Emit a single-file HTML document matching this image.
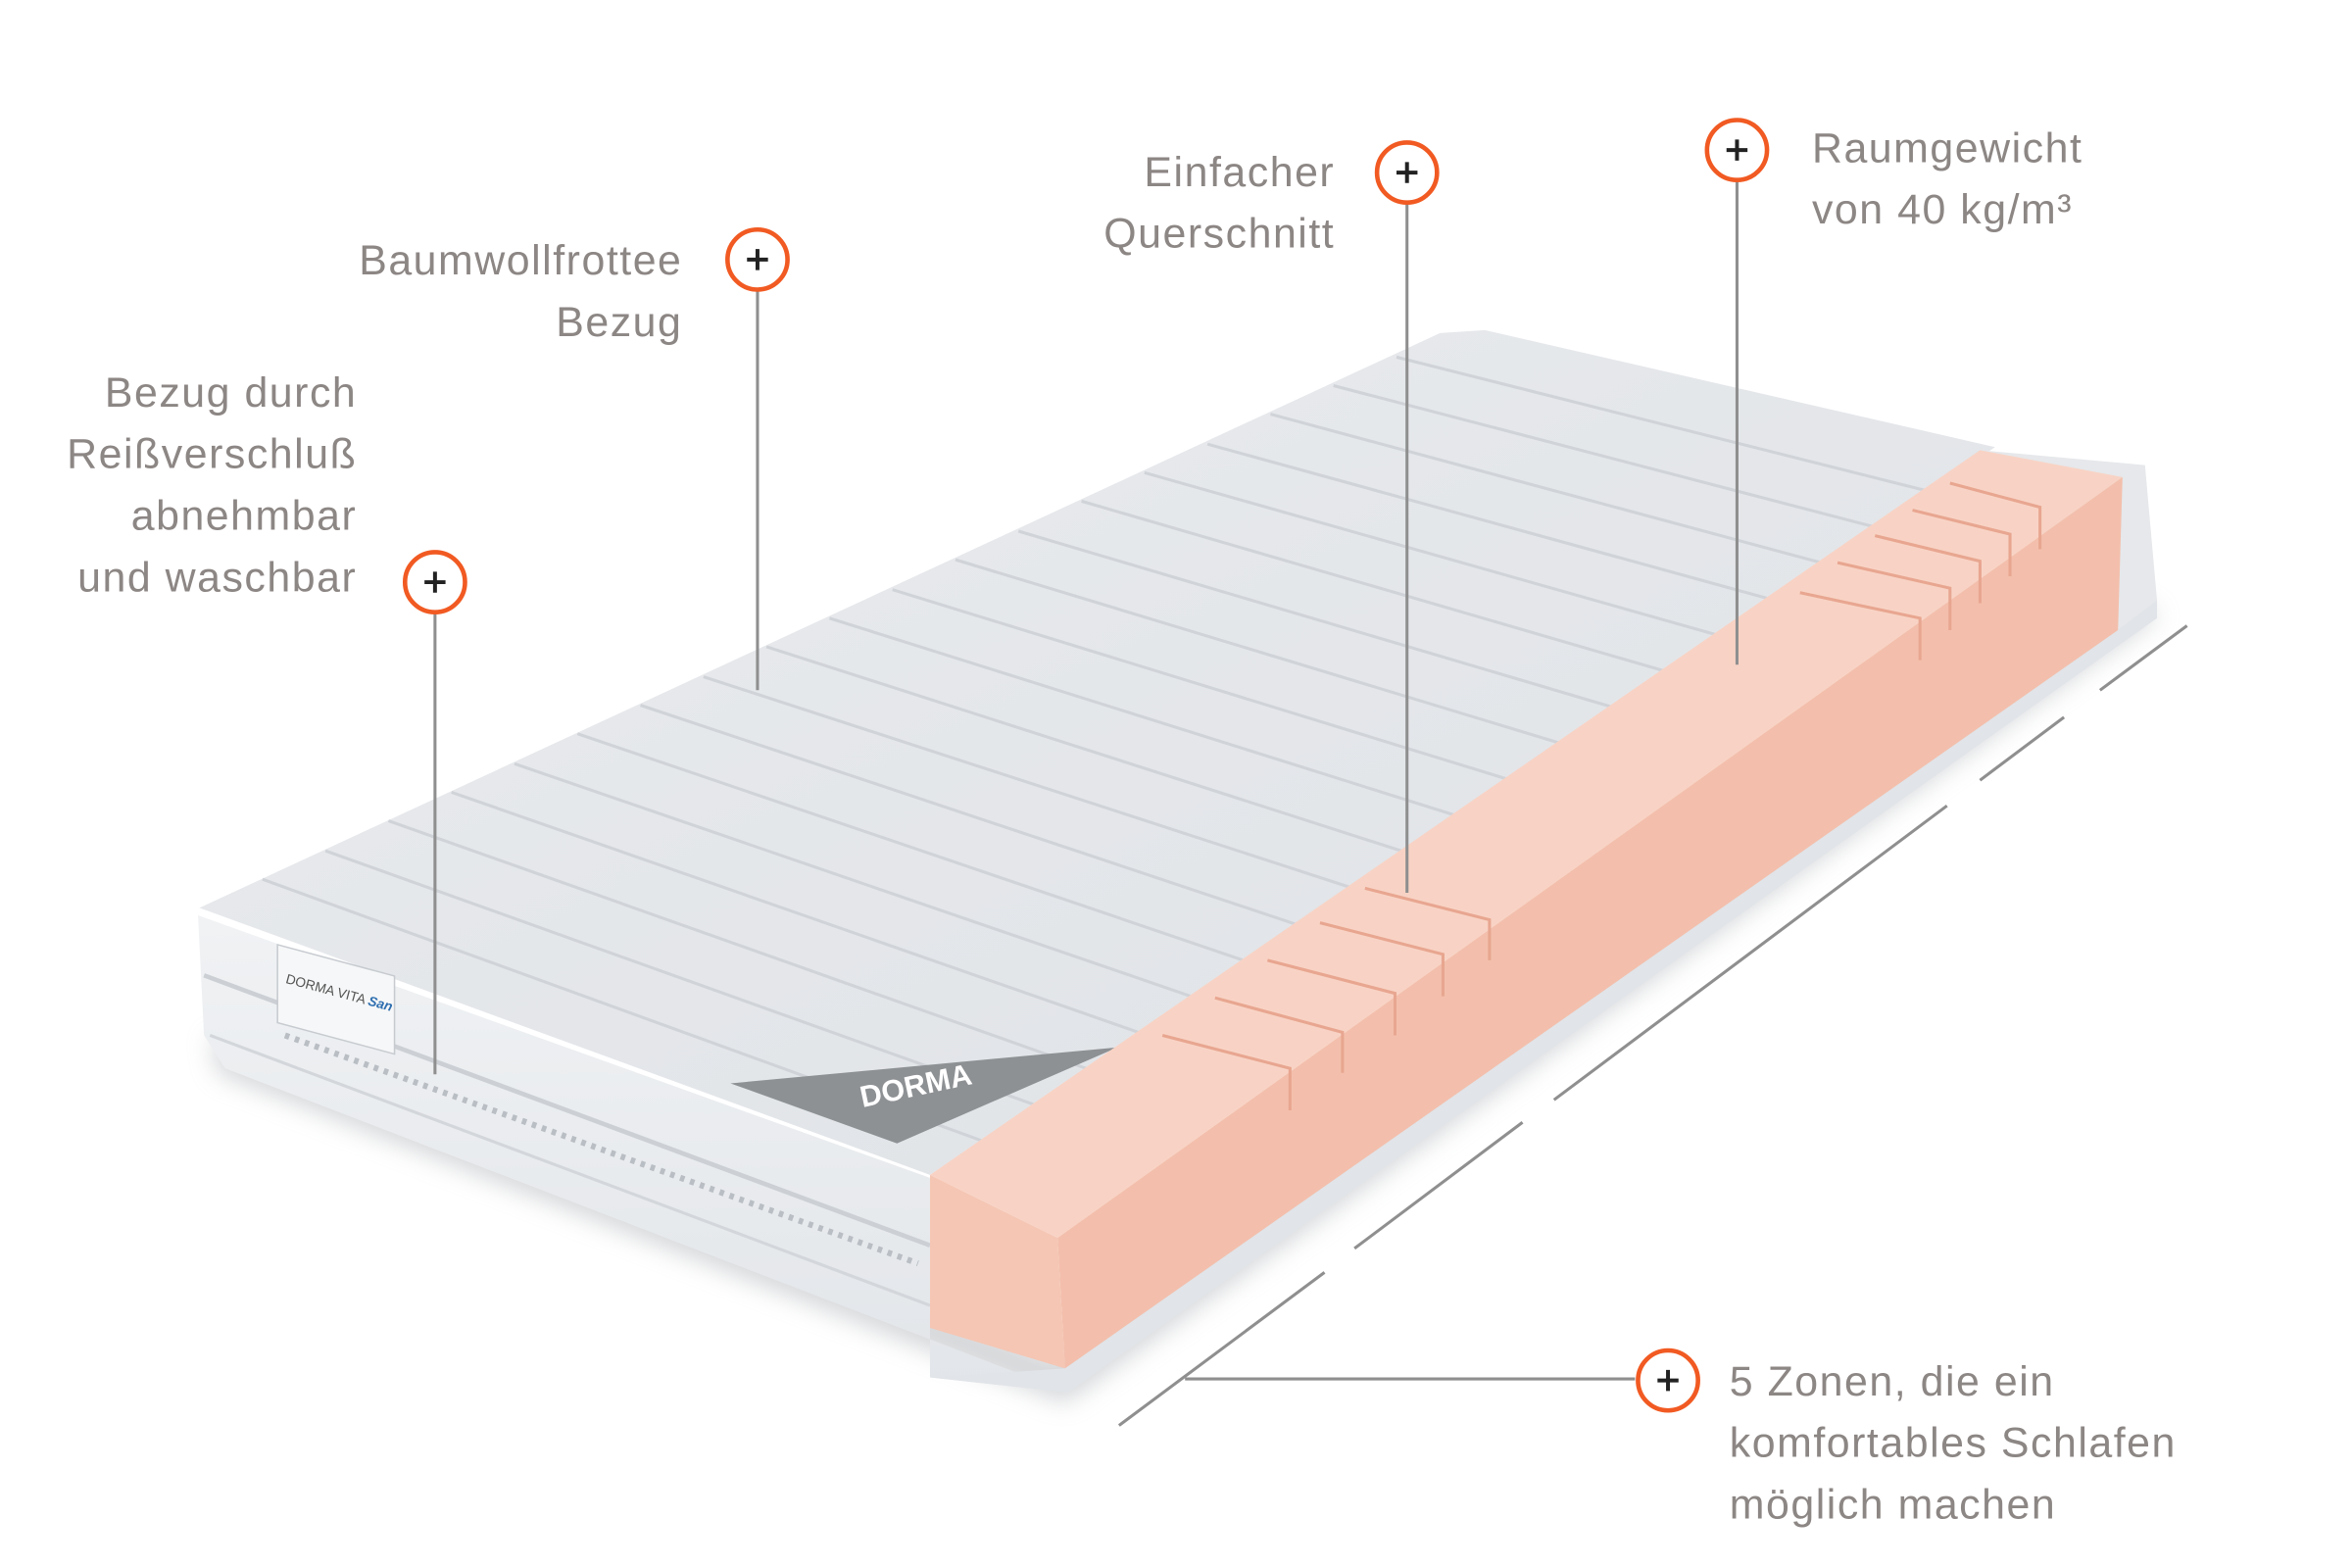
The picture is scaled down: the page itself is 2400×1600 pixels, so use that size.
<!DOCTYPE html>
<html><head><meta charset="utf-8"><style>
html,body{margin:0;padding:0;background:#fff;width:2400px;height:1600px;overflow:hidden}
svg{display:block}
text{font-family:"Liberation Sans",sans-serif;font-size:28px;letter-spacing:1px;fill:#8c8684}
</style></head><body>
<svg width="2400" height="1600" viewBox="0 0 1568 1045" preserveAspectRatio="none">
<defs>
<filter id="sh" x="-20%" y="-20%" width="140%" height="140%"><feGaussianBlur stdDeviation="8"/></filter>
<linearGradient id="top" x1="0" y1="0" x2="1" y2="1"><stop offset="0" stop-color="#e9ebee"/><stop offset="1" stop-color="#dfe2e6"/></linearGradient>
<linearGradient id="side" x1="0" y1="0" x2="0" y2="1"><stop offset="0" stop-color="#f0f2f4"/><stop offset="1" stop-color="#e2e5e9"/></linearGradient>
</defs>
<polygon points="145,715 710,935 1440,410 1420,400 705,905 140,690" fill="#b8bbbf" opacity="0.6" filter="url(#sh)"/>
<polygon points="132,610 620,785 620,918 712,928 150,712 136,690" fill="url(#side)"/>
<path d="M136,650 L620,830" stroke="#ccd0d5" stroke-width="3" fill="none"/>
<path d="M140,690 L620,870" stroke="#d3d6da" stroke-width="2" fill="none"/>
<path d="M190,690 L612,842" stroke="#b9bec4" stroke-width="4" stroke-dasharray="3,4" fill="none"/>
<polygon points="133,605 960,222 990,220 1330,298 620,783" fill="url(#top)"/>
<g stroke="#d0d3d8" stroke-width="2" fill="none">
<line x1="175" y1="586" x2="654" y2="760"/>
<line x1="217" y1="567" x2="689" y2="736"/>
<line x1="259" y1="547" x2="724" y2="712"/>
<line x1="301" y1="528" x2="759" y2="688"/>
<line x1="343" y1="509" x2="794" y2="664"/>
<line x1="385" y1="489" x2="829" y2="640"/>
<line x1="427" y1="470" x2="864" y2="616"/>
<line x1="469" y1="451" x2="899" y2="591"/>
<line x1="511" y1="431" x2="934" y2="567"/>
<line x1="553" y1="412" x2="969" y2="543"/>
<line x1="595" y1="393" x2="1004" y2="519"/>
<line x1="637" y1="373" x2="1039" y2="495"/>
<line x1="679" y1="354" x2="1074" y2="471"/>
<line x1="721" y1="334" x2="1109" y2="447"/>
<line x1="763" y1="315" x2="1144" y2="423"/>
<line x1="805" y1="296" x2="1179" y2="399"/>
<line x1="847" y1="276" x2="1214" y2="375"/>
<line x1="889" y1="257" x2="1249" y2="351"/>
<line x1="931" y1="238" x2="1284" y2="327"/>
</g>
<rect x="185" y="640" width="78" height="52" fill="#f6f7f8" stroke="#c7cbd0" transform="skewY(15) translate(0,-60)"/>
<text x="190" y="655" style="font-size:9px;fill:#555;letter-spacing:0" transform="rotate(15 190 655)">DORMA VITA <tspan fill="#2f6fb0" font-style="italic" font-weight="bold">San</tspan></text>
<polygon points="487,722 745,698 598,762" fill="#8e9194"/>
<text x="575" y="738" style="font-size:20px;fill:#fff;font-weight:bold;letter-spacing:0" transform="rotate(-12 575 738)">DORMA</text>
<polygon points="1320,300 1430,310 1438,400 1412,420" fill="#e6e8eb"/>
<polygon points="620,783 1320,300 1415,318 705,825" fill="#f8d3c5"/>
<polygon points="705,825 1415,318 1412,420 710,912" fill="#f3bfac"/>
<polygon points="620,783 705,825 710,912 620,885" fill="#f5c6b4"/>
<g stroke="#e8a690" stroke-width="2" fill="none">
<path d="M775,690 L860,712 L860,740"/>
<path d="M810,665 L895,688 L895,715"/>
<path d="M845,640 L930,662 L930,690"/>
<path d="M880,615 L962,636 L962,664"/>
<path d="M910,592 L993,613 L993,640"/>
<path d="M1200,395 L1280,412 L1280,440"/>
<path d="M1225,375 L1300,392 L1300,420"/>
<path d="M1250,357 L1320,374 L1320,402"/>
<path d="M1275,340 L1340,356 L1340,384"/>
<path d="M1300,322 L1360,338 L1360,366"/>
</g>
<polygon points="620,918 710,912 1412,420 1438,400 1438,412 712,928" fill="#e1e4e8"/>
<g stroke="#8f8f8f" stroke-width="2">
<line x1="1458" y1="417" x2="1400" y2="460"/>
<line x1="1376" y1="478" x2="1320" y2="520"/>
<line x1="1298" y1="537" x2="1036" y2="733"/>
<line x1="1015" y1="748" x2="903" y2="832"/>
<line x1="883" y1="848" x2="746" y2="950"/>
<line x1="790" y1="919" x2="1090" y2="919"/>
<line x1="505" y1="193" x2="505" y2="460"/>
<line x1="290" y1="408" x2="290" y2="716"/>
<line x1="938" y1="135" x2="938" y2="595"/>
<line x1="1158" y1="120" x2="1158" y2="443"/>
</g>
<g stroke-width="3">
<g transform="translate(505,173)"><circle r="20" fill="#fff" stroke="#f15a22"/><path d="M-7,0H7M0,-7V7" stroke="#222" stroke-width="2.6"/></g>
<g transform="translate(290,388)"><circle r="20" fill="#fff" stroke="#f15a22"/><path d="M-7,0H7M0,-7V7" stroke="#222" stroke-width="2.6"/></g>
<g transform="translate(938,115)"><circle r="20" fill="#fff" stroke="#f15a22"/><path d="M-7,0H7M0,-7V7" stroke="#222" stroke-width="2.6"/></g>
<g transform="translate(1158,100)"><circle r="20" fill="#fff" stroke="#f15a22"/><path d="M-7,0H7M0,-7V7" stroke="#222" stroke-width="2.6"/></g>
<g transform="translate(1112,920)"><circle r="20" fill="#fff" stroke="#f15a22"/><path d="M-7,0H7M0,-7V7" stroke="#222" stroke-width="2.6"/></g>
</g>
<g text-anchor="end">
<text x="455" y="183">Baumwollfrottee</text>
<text x="455" y="224">Bezug</text>
<text x="238" y="271">Bezug durch</text>
<text x="238" y="312">Reißverschluß</text>
<text x="238" y="353">abnehmbar</text>
<text x="238" y="394">und waschbar</text>
<text x="890" y="124">Einfacher</text>
<text x="890" y="165">Querschnitt</text>
</g>
<text x="1208" y="108">Raumgewicht</text>
<text x="1208" y="149">von 40 kg/m³</text>
<text x="1153" y="930">5 Zonen, die ein</text>
<text x="1153" y="971">komfortables Schlafen</text>
<text x="1153" y="1012">möglich machen</text>
</svg>
</body></html>
